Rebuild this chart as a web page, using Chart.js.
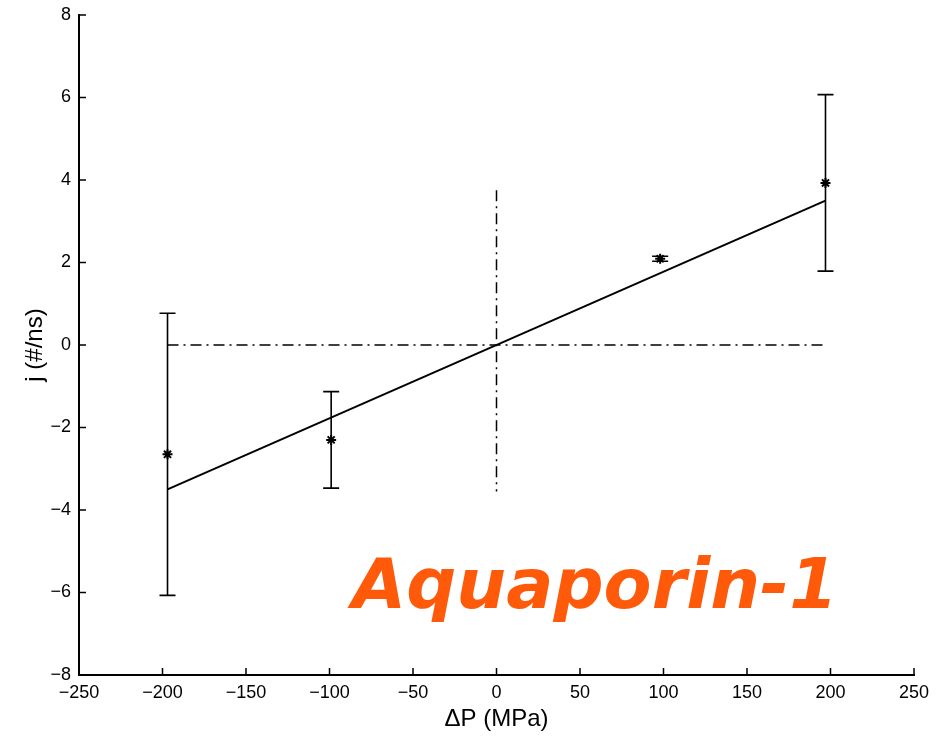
<!DOCTYPE html>
<html>
<head>
<meta charset="utf-8">
<script src="https://cdn.jsdelivr.net/npm/chart.js@4"></script>
<style>
  html, body { margin: 0; padding: 0; background: #fff; }
  #wrap { width: 946px; height: 738px; }
</style>
</head>
<body>
<div id="wrap"><canvas id="chart" width="946" height="738"></canvas></div>
<script>
// measured points (pressure difference vs flux)
const pressure = [-197, -99, 98, 197];
const flux = [-2.65, -2.3, 2.09, 3.93];
const fluxErr = [3.42, 1.17, 0.06, 2.14];

// linear fit
const fitX = [-197, 197];
const fitY = [-3.5, 3.5];

// dash-dot reference lines
const zeroLineX = [-197, 197];
const zeroLineY = [3.75, -3.55];

const xTicks = [-250, -200, -150, -100, -50, 0, 50, 100, 150, 200, 250];
const yTicks = [-8, -6, -4, -2, 0, 2, 4, 6, 8];

const dashDot = [11, 5, 2, 5];

const minus = v => String(v).replace('-', '\u2212');

// error bars, inward ticks and the big label
const extras = {
    id: 'extras',
    afterDatasetsDraw(chart) {
        const c = chart.ctx;
        const xs = chart.scales.x, ys = chart.scales.y;
        c.save();
        c.strokeStyle = '#000';
        c.lineWidth = 1.6;
        for (let i = 0; i < pressure.length; i++) {
            const px = xs.getPixelForValue(pressure[i]);
            const top = ys.getPixelForValue(flux[i] + fluxErr[i]);
            const bot = ys.getPixelForValue(flux[i] - fluxErr[i]);
            c.beginPath();
            c.moveTo(px, top); c.lineTo(px, bot);
            c.moveTo(px - 8, top); c.lineTo(px + 8, top);
            c.moveTo(px - 8, bot); c.lineTo(px + 8, bot);
            c.stroke();
        }
        // tick marks pointing into the plot
        c.lineWidth = 1.5;
        c.beginPath();
        xTicks.forEach(t => {
            const px = xs.getPixelForValue(t);
            c.moveTo(px, xs.top); c.lineTo(px, xs.top - 7);
        });
        yTicks.forEach(t => {
            const py = ys.getPixelForValue(t);
            c.moveTo(ys.right, py); c.lineTo(ys.right + 7, py);
        });
        c.stroke();

        // Aquaporin-1 label
        const label = 'Aquaporin-1';
        let size = 60;
        c.font = 'italic bold ' + size + 'px "Comic Sans MS", "DejaVu Sans", sans-serif';
        size = size * 486 / c.measureText(label).width;
        c.font = 'italic bold ' + size + 'px "Comic Sans MS", "DejaVu Sans", sans-serif';
        c.fillStyle = '#ff5a0a';
        c.textBaseline = 'alphabetic';
        c.fillText(label, 352, 608);
        c.restore();
    }
};

new Chart(document.getElementById('chart').getContext('2d'), {
    type: 'scatter',
    data: {
        datasets: [
            {
                label: 'zero-x',
                type: 'line',
                data: zeroLineX.map(x => ({ x: x, y: 0 })),
                borderColor: '#000',
                borderWidth: 1.5,
                borderDash: dashDot,
                pointRadius: 0
            },
            {
                label: 'zero-y',
                type: 'line',
                data: zeroLineY.map(y => ({ x: 0, y: y })),
                borderColor: '#000',
                borderWidth: 1.5,
                borderDash: dashDot,
                pointRadius: 0
            },
            {
                label: 'fit',
                type: 'line',
                data: fitX.map((x, i) => ({ x: x, y: fitY[i] })),
                borderColor: '#000',
                borderWidth: 2,
                pointRadius: 0
            },
            {
                label: 'j',
                data: pressure.map((x, i) => ({ x: x, y: flux[i] })),
                pointStyle: 'star',
                pointRadius: 5,
                borderColor: '#000',
                backgroundColor: '#000',
                borderWidth: 2
            }
        ]
    },
    options: {
        responsive: false,
        animation: false,
        layout: { padding: { top: 15, right: 32, left: 0, bottom: 0 } },
        plugins: {
            legend: { display: false },
            tooltip: { enabled: false }
        },
        scales: {
            x: {
                type: 'linear',
                min: -250,
                max: 250,
                afterBuildTicks: s => { s.ticks = xTicks.map(v => ({ value: v })); },
                afterFit: s => { s.height = 63; s.paddingLeft = 0; s.paddingRight = 0; },
                grid: { display: true, drawOnChartArea: false, drawTicks: false },
                border: { display: true, color: '#000', width: 2 },
                ticks: {
                    color: '#000',
                    padding: 7,
                    font: { family: '"Liberation Sans", Arial, sans-serif', size: 18 },
                    callback: v => minus(v)
                },
                title: {
                    display: true,
                    text: '\u0394P (MPa)',
                    color: '#000',
                    padding: { top: 0, bottom: 4 },
                    font: { family: '"Liberation Sans", Arial, sans-serif', size: 24 }
                }
            },
            y: {
                type: 'linear',
                min: -8,
                max: 8,
                afterBuildTicks: s => { s.ticks = yTicks.map(v => ({ value: v })); },
                afterFit: s => { s.width = 79; s.paddingTop = 0; s.paddingBottom = 0; },
                grid: { display: true, drawOnChartArea: false, drawTicks: false },
                border: { display: true, color: '#000', width: 2 },
                ticks: {
                    color: '#000',
                    padding: 8,
                    font: { family: '"Liberation Sans", Arial, sans-serif', size: 18 },
                    callback: v => minus(v)
                },
                title: {
                    display: true,
                    text: 'j (#/ns)',
                    color: '#000',
                    padding: { top: 21, bottom: 0 },
                    font: { family: '"Liberation Sans", Arial, sans-serif', size: 24 }
                }
            }
        }
    },
    plugins: [extras]
});
</script>
</body>
</html>
